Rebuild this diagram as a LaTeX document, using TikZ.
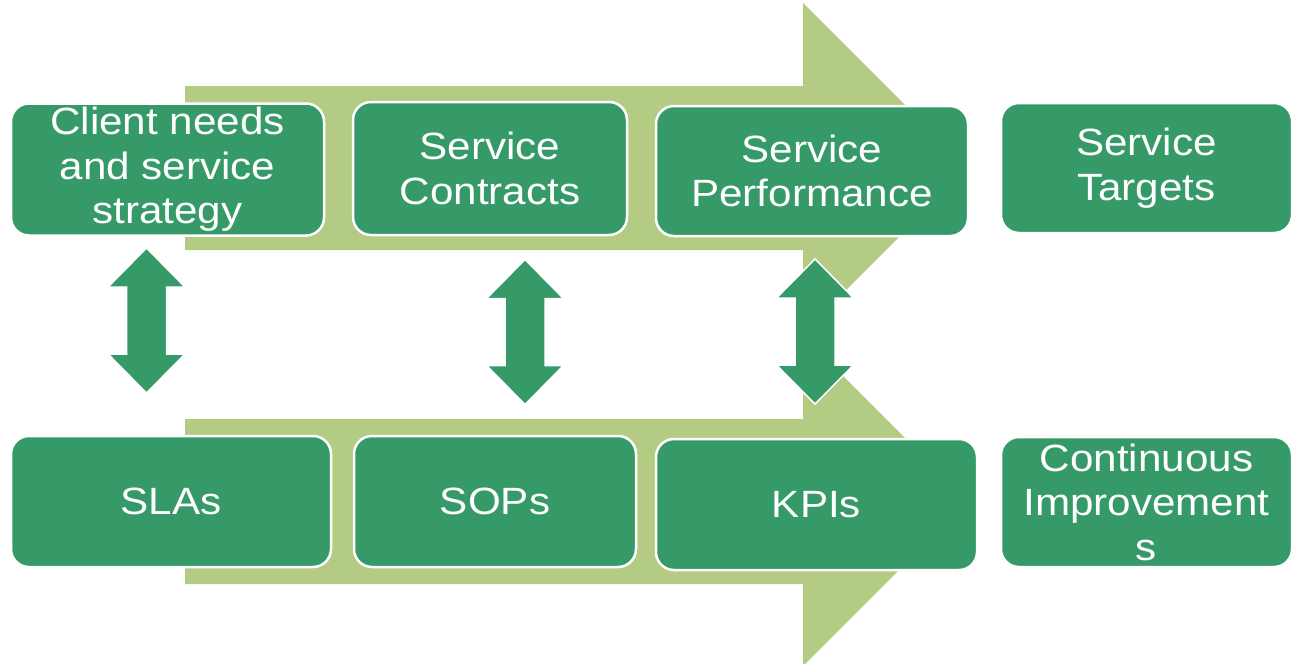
\documentclass[tikz,border=0pt]{standalone}
\usepackage{fontspec}
\setmainfont[FakeStretch=1.11]{Liberation Sans}
\definecolor{boxgreen}{HTML}{359A68}
\definecolor{flowgreen}{HTML}{B3CB83}
\begin{document}
\begin{tikzpicture}[x=1pt,y=-1pt,
  flow/.style={fill=flowgreen,draw=none},
  stage/.style={draw=white,line width=2.5pt,fill=boxgreen,rounded corners=18pt,
    text=white,align=center,inner sep=0pt,
    font=\fontsize{38}{44.5}\selectfont},
  link/.style={draw=white,line width=1.5pt,fill=boxgreen,line join=miter},
  updown/.pic={
    \path[link] (0,-72.5) -- (38.5,-33.5) -- (20,-33.5) -- (20,33.5) -- (38.5,33.5)
      -- (0,72.5) -- (-38.5,33.5) -- (-20,33.5) -- (-20,-33.5) -- (-38.5,-33.5) -- cycle;
  }]
\useasboundingbox (0,0) rectangle (1291,664);
\clip (0,0) rectangle (1291,664);
\fill[white] (0,0) rectangle (1291,664);

% two broad flow arrows behind the rows
\path[flow] (185,86) -- (803,86) -- (803,3) -- (968,168) -- (803,333) -- (803,250) -- (185,250) -- cycle;
\path[flow] (185,419) -- (803,419) -- (803,336) -- (968,501) -- (803,666) -- (803,584) -- (185,584) -- cycle;

% upper row
\node[stage,minimum width=313pt,minimum height=132pt] (needs) at (167.5,169.5) {Client needs\\and service\\strategy};
\node[stage,minimum width=274pt,minimum height=133pt] (contracts) at (490,168.5) {Service\\Contracts};
\node[stage,minimum width=312pt,minimum height=130pt] (perf) at (812,171) {Service\\Performance};
\node[stage,minimum width=291pt,minimum height=130pt] (targets) at (1146.5,168) {Service\\Targets};

% lower row
\node[stage,minimum width=320pt,minimum height=131pt] (slas) at (171,501.5) {SLAs};
\node[stage,minimum width=282pt,minimum height=131pt] (sops) at (495,501.5) {SOPs};
\node[stage,minimum width=321pt,minimum height=131pt] (kpis) at (816.5,504.5) {KPIs};
\node[stage,minimum width=291pt,minimum height=130pt] (improve) at (1146.5,502) {Continuous\\Improvement\\s};

% two-way links between the rows
\pic at (146.5,320.5) {updown};
\pic at (525,332) {updown};
\pic at (815,331.5) {updown};
\end{tikzpicture}
\end{document}
